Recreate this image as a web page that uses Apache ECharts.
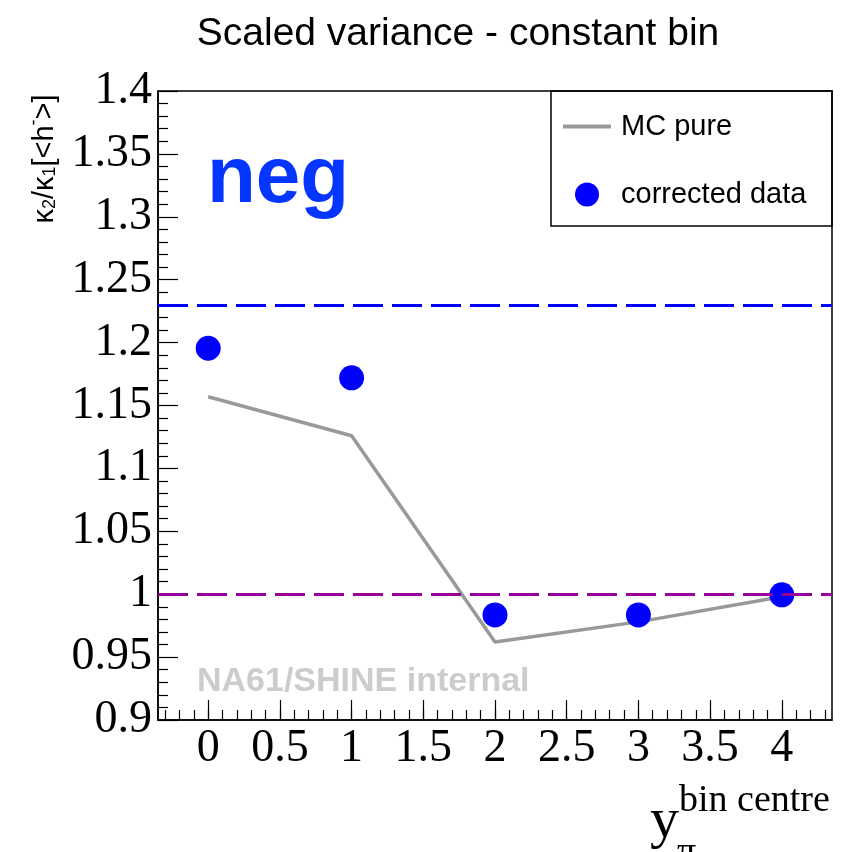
<!DOCTYPE html>
<html>
<head>
<meta charset="utf-8">
<script src="https://cdn.jsdelivr.net/npm/echarts@6/dist/echarts.min.js"></script>
<style>
  html, body { margin: 0; padding: 0; background: #fff; }
  #chart { width: 864px; height: 852px; }
</style>
</head>
<body>
<div id="chart"></div>
<script>
// rapidity bin centres
const binCentres = [0, 1, 2, 3, 4];
// scaled variance, MC pure simulation
const mcPure = [1.157, 1.126, 0.962, 0.978, 0.998];
// scaled variance, corrected data
const correctedData = [1.1955, 1.172, 0.9835, 0.9835, 0.9995];
// horizontal reference levels
const refLevelNeg = 1.232;
const refLevelPoisson = 1.0;
// x-axis labelled ticks
const xMajorTicks = [0, 0.5, 1, 1.5, 2, 2.5, 3, 3.5, 4];
// x-axis unlabelled ticks (every 0.1 inside the range)
const xMinorTicks = [];
for (let i = -3; i <= 43; i++) xMinorTicks.push(i / 10);

const X_MIN = -0.35, X_MAX = 4.35;

const chart = echarts.init(document.getElementById('chart'), null, { renderer: 'canvas' });

const serif = 'Liberation Serif, Times New Roman, serif';
const sans = 'Liberation Sans, Helvetica, Arial, sans-serif';

const option = {
  animation: false,
  backgroundColor: '#ffffff',
  grid: {
    left: 158, right: 32, top: 91, bottom: 132,
    show: true, borderColor: '#000', borderWidth: 1.5, backgroundColor: 'transparent'
  },
  xAxis: [
    {
      type: 'value', min: X_MIN, max: X_MAX, position: 'bottom',
      axisLine: { show: true, onZero: false, lineStyle: { color: '#000', width: 1.5 } },
      axisTick: { show: true, inside: true, length: 20, customValues: xMajorTicks,
        lineStyle: { color: '#000', width: 1.2 } },
      axisLabel: { show: true, customValues: xMajorTicks, margin: 6,
        fontFamily: serif, fontSize: 46, color: '#000' },
      splitLine: { show: false }
    },
    {
      type: 'value', min: X_MIN, max: X_MAX, position: 'bottom', gridIndex: 0,
      axisLine: { show: false },
      axisTick: { show: true, inside: true, length: 10, customValues: xMinorTicks,
        lineStyle: { color: '#000', width: 1.2 } },
      axisLabel: { show: false },
      splitLine: { show: false }
    }
  ],
  yAxis: {
    type: 'value', min: 0.9, max: 1.4, interval: 0.05,
    axisLine: { show: true, onZero: false, lineStyle: { color: '#000', width: 1.5 } },
    axisTick: { show: true, inside: true, length: 20, lineStyle: { color: '#000', width: 1.2 } },
    minorTick: { show: true, splitNumber: 5, length: 10, lineStyle: { color: '#000', width: 1.2 } },
    axisLabel: { margin: 6, fontFamily: serif, fontSize: 46, color: '#000',
      formatter: v => String(Math.round(v * 100) / 100) },
    splitLine: { show: false },
    minorSplitLine: { show: false }
  },
  legend: {
    orient: 'vertical', left: 561, top: 112, padding: 0,
    itemWidth: 48, itemHeight: 24, itemGap: 39,
    textStyle: { fontFamily: sans, fontSize: 29, color: '#000', padding: [0, 0, 0, 5], lineHeight: 24 },
    data: [
      { name: 'MC pure', itemStyle: { opacity: 0 }, lineStyle: { width: 4, color: '#999999' } },
      { name: 'corrected data' }
    ]
  },
  graphic: [
    { type: 'text', x: 458, y: 34, z: 10,
      style: { text: 'Scaled variance - constant bin', fontFamily: sans, fontSize: 39,
        fill: '#000', align: 'center', verticalAlign: 'middle' } },
    { type: 'rect', shape: { x: 551, y: 91, width: 281, height: 135 }, z: 5,
      style: { fill: 'transparent', stroke: '#000', lineWidth: 1.5 } },
    { type: 'text', x: 207, y: 180, z: 10,
      style: { text: 'neg', fontFamily: sans, fontWeight: 'bold', fontSize: 80,
        fill: '#0536ff', align: 'left', verticalAlign: 'middle' } },
    { type: 'text', x: 197, y: 682, z: 10,
      style: { text: 'NA61/SHINE internal', fontFamily: sans, fontWeight: 'bold', fontSize: 34,
        fill: '#cccccc', align: 'left', verticalAlign: 'middle' } },
    { type: 'text', x: 42, y: 159, rotation: Math.PI / 2, z: 10,
      style: {
        text: '{k|κ}{s|2}{k|/κ}{s|1}{k|[<h}{p|-}{k|>]}',
        align: 'center', verticalAlign: 'middle', fill: '#000',
        rich: {
          k: { fontFamily: sans, fontSize: 29, lineHeight: 34, verticalAlign: 'bottom' },
          s: { fontFamily: sans, fontSize: 18, lineHeight: 12, verticalAlign: 'bottom' },
          p: { fontFamily: sans, fontSize: 18, lineHeight: 12, verticalAlign: 'top' }
        }
      } },
    { type: 'text', x: 650, y: 822, z: 10,
      style: { text: 'y', fontFamily: serif, fontSize: 58, fill: '#000',
        align: 'left', verticalAlign: 'middle' } },
    { type: 'text', x: 679, y: 801, z: 10,
      style: { text: 'bin centre', fontFamily: serif, fontSize: 38, fill: '#000',
        align: 'left', verticalAlign: 'middle' } },
    { type: 'text', x: 677, y: 853, z: 10,
      style: { text: 'π', fontFamily: serif, fontSize: 38, fill: '#000',
        align: 'left', verticalAlign: 'middle' } }
  ],
  series: [
    {
      name: 'MC pure', type: 'line', xAxisIndex: 0,
      data: binCentres.map((x, i) => [x, mcPure[i]]),
      symbol: 'none', showSymbol: false,
      lineStyle: { color: '#999999', width: 3.5 },
      itemStyle: { color: '#999999' },
      z: 3,
      markLine: {
        silent: true, symbol: 'none', label: { show: false },
        data: [
          { yAxis: refLevelNeg, lineStyle: { color: '#0000ff', width: 3, type: [30, 9] } },
          { yAxis: refLevelPoisson, lineStyle: { color: '#990099', width: 3, type: [30, 9] } }
        ]
      }
    },
    {
      name: 'corrected data', type: 'scatter', xAxisIndex: 0,
      data: binCentres.map((x, i) => [x, correctedData[i]]),
      symbol: 'circle', symbolSize: 25,
      itemStyle: { color: '#0000ff', opacity: 1 },
      z: 4
    }
  ]
};

chart.setOption(option);
</script>
</body>
</html>
